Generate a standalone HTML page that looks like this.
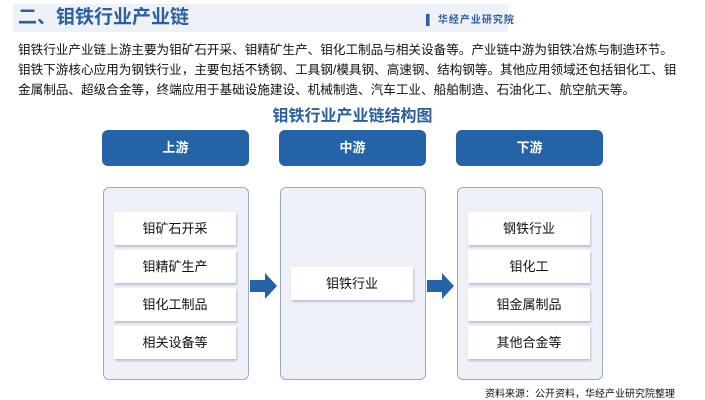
<!DOCTYPE html>
<html><head><meta charset="utf-8"><style>
*{margin:0;padding:0;box-sizing:border-box}
body{width:705px;height:400px;background:#fff;position:relative;overflow:hidden;font-family:"Liberation Sans","Noto Sans CJK SC",sans-serif;color:#111}
.a{position:absolute}
.bar{left:13px;top:4px;width:495px;height:28px;background:#eef1f7}
.title{left:18px;top:6px;font-size:19px;font-weight:bold;color:#2b5fa0;line-height:24px}
.logo{left:426px;top:11px;font-size:10px;font-weight:bold;color:#2b5fa0;letter-spacing:1px}
.p{left:18px;font-size:12.6px;line-height:20px;white-space:nowrap}
.sub{left:0;width:705px;top:102px;text-align:center;font-size:16px;font-weight:bold;color:#2b5fa0}
.hd{top:130px;height:36px;width:147px;background:#2563a8;border-radius:6px;color:#fff;font-size:13px;font-weight:bold;text-align:center;line-height:36px}
.bx{top:187px;height:193px;width:146px;background:#eef1f7;border:1px solid #9aaac6;border-radius:6px}
.it{width:122px;height:33px;background:#fff;box-shadow:1px 2px 2px rgba(120,135,165,.45);font-size:13px;text-align:center;line-height:33px}
.src{left:485px;top:385px;font-size:10px}
</style></head><body>
<div class="a bar"></div>
<div class="a title">二、钼铁行业产业链</div>
<div class="a logo">▌ 华经产业研究院</div>
<div class="a p" style="top:40px">钼铁行业产业链上游主要为钼矿石开采、钼精矿生产、钼化工制品与相关设备等。产业链中游为钼铁冶炼与制造环节。</div>
<div class="a p" style="top:60px">钼铁下游核心应用为钢铁行业，主要包括不锈钢、工具钢/模具钢、高速钢、结构钢等。其他应用领域还包括钼化工、钼</div>
<div class="a p" style="top:80px">金属制品、超级合金等，终端应用于基础设施建设、机械制造、汽车工业、船舶制造、石油化工、航空航天等。</div>
<div class="a sub">钼铁行业产业链结构图</div>
<div class="a hd" style="left:102px">上游</div>
<div class="a hd" style="left:279px">中游</div>
<div class="a hd" style="left:456px">下游</div>
<div class="a bx" style="left:103px"></div>
<div class="a bx" style="left:280px"></div>
<div class="a bx" style="left:457px"></div>
<div class="a it" style="left:114px;top:212px">钼矿石开采</div>
<div class="a it" style="left:114px;top:250px">钼精矿生产</div>
<div class="a it" style="left:114px;top:288px">钼化工制品</div>
<div class="a it" style="left:114px;top:326px">相关设备等</div>
<div class="a it" style="left:291px;top:267px">钼铁行业</div>
<div class="a it" style="left:468px;top:212px">钢铁行业</div>
<div class="a it" style="left:468px;top:250px">钼化工</div>
<div class="a it" style="left:468px;top:288px">钼金属制品</div>
<div class="a it" style="left:468px;top:326px">其他合金等</div>
<svg class="a" style="left:250px;top:273px" width="28" height="26"><polygon points="0,7 15,7 15,0 27,13 15,26 15,19 0,19" fill="#2563a8"/></svg>
<svg class="a" style="left:427px;top:273px" width="28" height="26"><polygon points="0,7 15,7 15,0 27,13 15,26 15,19 0,19" fill="#2563a8"/></svg>
<div class="a src">资料来源：公开资料，华经产业研究院整理</div>
</body></html>
